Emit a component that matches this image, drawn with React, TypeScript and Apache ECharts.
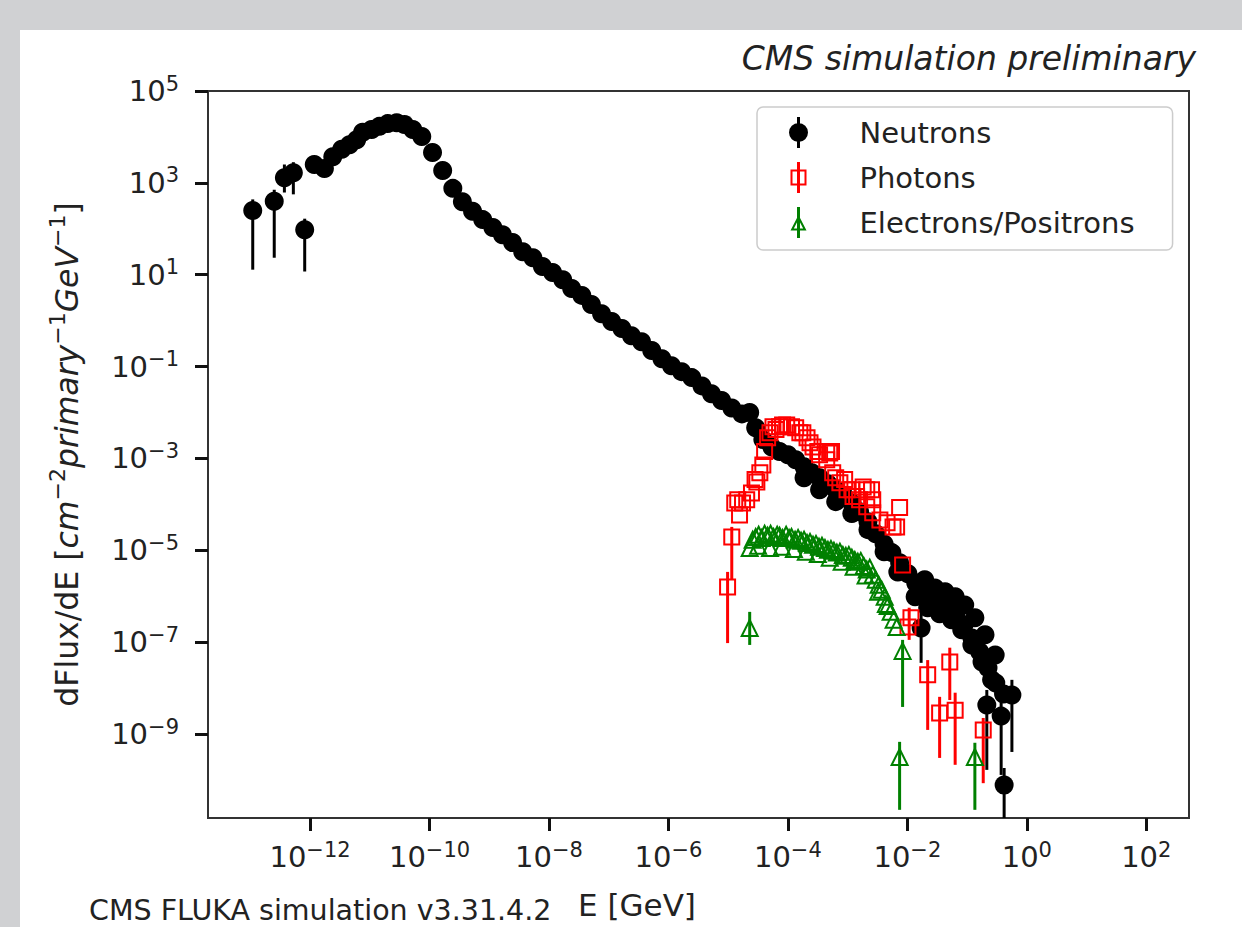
import React, { useEffect, useRef } from "react";
import * as echarts from "echarts";

const FONT = "DejaVu Sans";
const INK = "#222222";

// Decades that carry ticks and labels (log10 values)
const xTickExponents = [-12, -10, -8, -6, -4, -2, 0, 2];
const yTickExponents = [5, 3, 1, -1, -3, -5, -7, -9];
// Axis limits (log10 values)
const xLogRange = [-13.709, 2.715];
const yLogRange = [-10.828, 5];

// Neutrons: log10(E / GeV) and log10(dFlux/dE)
const neutronLogE = [
  -12.96, -12.6, -12.43, -12.28, -12.09, -11.93, -11.76, -11.62, -11.47, -11.34,
  -11.22, -11.12, -10.97, -10.84, -10.7, -10.55, -10.42, -10.28, -10.13, -9.95,
  -9.78, -9.61, -9.45, -9.28, -9.11, -8.94, -8.78, -8.61, -8.44, -8.27,
  -8.11, -7.94, -7.77, -7.62, -7.45, -7.29, -7.12, -6.95, -6.78, -6.62,
  -6.45, -6.28, -6.11, -5.95, -5.78, -5.61, -5.44, -5.28, -5.11, -4.94,
  -4.77, -4.64, -4.54, -4.42, -4.27, -4.14, -4.0, -3.87, -3.73, -3.73,
  -3.6, -3.47, -3.47, -3.33, -3.2, -3.2, -3.06, -2.93, -2.93, -2.8,
  -2.66, -2.66, -2.53, -2.39, -2.39, -2.26, -2.16, -2.13, -1.99, -1.87,
  -1.86, -1.77, -1.72, -1.71, -1.66, -1.59, -1.54, -1.46, -1.46, -1.37,
  -1.32, -1.26, -1.2, -1.19, -1.09, -1.05, -1.04, -0.92, -0.92, -0.87,
  -0.79, -0.75, -0.7, -0.67, -0.65, -0.59, -0.53, -0.52, -0.43, -0.39,
  -0.38, -0.25,
];
const neutronLogFlux = [
  2.4, 2.6, 3.11, 3.22, 1.98, 3.4, 3.31, 3.57, 3.73, 3.83,
  3.94, 4.1, 4.16, 4.23, 4.29, 4.31, 4.27, 4.16, 4.01, 3.66,
  3.27, 2.88, 2.59, 2.38, 2.2, 2.03, 1.87, 1.7, 1.5, 1.37,
  1.18, 1.05, 0.89, 0.7, 0.55, 0.35, 0.15, -0.02, -0.17, -0.33,
  -0.46, -0.65, -0.83, -0.98, -1.11, -1.24, -1.42, -1.59, -1.74, -1.9,
  -2.03, -2.0, -2.33, -2.59, -2.75, -2.85, -2.92, -3.03, -3.18, -3.42,
  -3.31, -3.42, -3.68, -3.55, -3.68, -3.94, -3.81, -3.97, -4.2, -4.16,
  -4.38, -4.55, -4.64, -4.86, -5.03, -5.05, -5.47, -5.27, -5.51, -6.01,
  -5.71, -6.69, -5.86, -5.64, -6.25, -6.01, -5.82, -6.12, -6.38, -5.9,
  -6.23, -6.51, -6.01, -6.41, -6.73, -6.62, -6.19, -6.91, -7.06, -6.47,
  -7.21, -7.43, -6.84, -8.37, -7.56, -7.82, -7.28, -7.89, -8.61, -8.13,
  -10.11, -8.15,
];
// [log10 E, log10 lower, log10 upper]
const neutronErrors = [
  [-12.96, 1.11, 2.64],
  [-12.6, 1.37, 2.85],
  [-12.43, 2.79, 3.4],
  [-12.28, 2.75, 3.45],
  [-12.09, 1.07, 2.22],
  [-1.77, -7.45, -6.34],
  [-0.67, -9.78, -8.04],
  [-0.43, -9.89, -8.3],
  [-0.25, -9.39, -7.82],
  [-0.38, -11.5, -9.74],
];

// Photons
const photonLogE = [
  -5.01, -4.94, -4.89, -4.84, -4.81, -4.76, -4.69, -4.61, -4.55, -4.52,
  -4.47, -4.42, -4.39, -4.34, -4.3, -4.25, -4.2, -4.14, -4.09, -4.02,
  -3.94, -3.87, -3.8, -3.75, -3.68, -3.63, -3.58, -3.5, -3.47, -3.35,
  -3.35, -3.3, -3.27, -3.25, -3.2, -3.13, -3.05, -3.01, -2.93, -2.91,
  -2.85, -2.8, -2.74, -2.68, -2.68, -2.6, -2.58, -2.58, -2.46, -2.34,
  -2.24, -2.18, -2.13, -2.08, -1.99, -1.94, -1.66, -1.46, -1.29, -1.2,
  -0.73,
];
const photonLogFlux = [
  -5.8, -4.71, -3.97, -3.9, -4.23, -3.97, -3.9, -3.75, -3.46, -3.51,
  -3.31, -3.14, -2.85, -2.55, -2.44, -2.31, -2.37, -2.31, -2.27, -2.27,
  -2.31, -2.33, -2.44, -2.44, -2.55, -2.66, -2.75, -2.85, -2.92, -2.85,
  -3.03, -2.88, -2.85, -3.31, -3.42, -3.53, -3.46, -3.68, -3.68, -3.83,
  -3.83, -3.9, -3.62, -3.68, -4.05, -3.68, -3.9, -4.18, -4.34, -4.4,
  -4.49, -4.49, -4.07, -5.32, -6.67, -6.47, -7.71, -8.54, -7.43, -8.48,
  -8.91,
];
const photonErrors = [
  [-5.01, -7.02, -5.47],
  [-4.94, -5.64, -4.49],
  [-1.97, -6.95, -6.25],
  [-1.66, -8.91, -7.39],
  [-1.46, -9.52, -8.19],
  [-1.29, -8.26, -7.12],
  [-1.2, -9.67, -8.1],
  [-0.73, -10.07, -8.65],
];

// Electrons / positrons
const electronLogE = [
  -4.64, -4.64, -4.59, -4.54, -4.5, -4.49, -4.44, -4.39, -4.34, -4.3,
  -4.29, -4.24, -4.18, -4.14, -4.1, -4.09, -4.03, -3.98, -3.94, -3.9,
  -3.88, -3.83, -3.78, -3.73, -3.7, -3.68, -3.63, -3.58, -3.53, -3.5,
  -3.48, -3.43, -3.38, -3.33, -3.3, -3.28, -3.23, -3.18, -3.13, -3.1,
  -3.08, -3.03, -2.98, -2.93, -2.9, -2.88, -2.83, -2.78, -2.73, -2.7,
  -2.68, -2.63, -2.58, -2.53, -2.49, -2.48, -2.43, -2.38, -2.36, -2.33,
  -2.28, -2.23, -2.18, -2.13, -2.08, -0.87,
];
const electronLogFlux = [
  -6.69, -4.95, -4.77, -4.71, -4.9, -4.66, -4.73, -4.64, -4.68, -4.95,
  -4.64, -4.71, -4.66, -4.68, -4.92, -4.73, -4.66, -4.73, -4.71, -4.97,
  -4.77, -4.73, -4.79, -4.77, -5.03, -4.84, -4.82, -4.88, -4.86, -5.08,
  -4.92, -4.9, -4.95, -4.99, -5.16, -4.97, -5.01, -5.05, -5.03, -5.25,
  -5.1, -5.12, -5.1, -5.16, -5.36, -5.21, -5.25, -5.23, -5.34, -5.55,
  -5.42, -5.38, -5.53, -5.64, -5.9, -5.75, -5.86, -6.01, -6.17, -6.21,
  -6.34, -6.51, -6.67, -9.5, -7.19, -9.5,
];
const electronErrors = [
  [-4.64, -7.06, -6.34],
  [-2.13, -10.65, -9.17],
  [-2.08, -8.41, -6.95],
  [-0.87, -10.65, -9.19],
];

// Legend glyphs: marker with its error bar
const NEUTRON_ICON =
  "path://M8.25,0H11.25V31H8.25Z M0.25,15.5A9.5,9.5,0,1,1,19.25,15.5A9.5,9.5,0,1,1,0.25,15.5Z";
const PHOTON_ICON =
  "path://M0,7.5H16V23.5H0Z M2,9.5V21.5H14V9.5Z M6.5,0H9.5V31H6.5Z";
const ELECTRON_ICON =
  "path://M8,8L16,23.5L0,23.5Z M8,12.4L3.3,21.5L12.7,21.5Z M6.5,0H9.5V31H6.5Z";

const pow10 = (v: number) => Math.pow(10, v);
const toPoints = (xs: number[], ys: number[]) => xs.map((e, i) => [pow10(e), pow10(ys[i])]);

const decadeLabel = (v: number) => {
  const p = Math.round(Math.log10(v));
  return `{b|10}{s|${p < 0 ? "\u2212" + -p : p}}`;
};

const tickRich = {
  b: { fontFamily: FONT, fontSize: 29, color: INK, lineHeight: 36 },
  s: { fontFamily: FONT, fontSize: 21, color: INK, lineHeight: 26, verticalAlign: "top" },
};

const errorBarSeries = (name: string, rows: number[][], color: string) => ({
  type: "custom",
  name,
  clip: true,
  silent: true,
  data: rows.map(([e, lo, hi]) => [pow10(e), pow10(lo), pow10(hi)]),
  encode: { x: 0, y: [1, 2] },
  renderItem: (_params: any, api: any) => {
    const top = api.coord([api.value(0), api.value(2)]);
    const bottom = api.coord([api.value(0), api.value(1)]);
    return {
      type: "line",
      shape: { x1: top[0], y1: top[1], x2: bottom[0], y2: bottom[1] },
      style: { stroke: color, lineWidth: 3 },
    };
  },
});

function buildOption() {
  return {
    animation: false,
    backgroundColor: "#d0d1d3",
    graphic: [
      {
        type: "rect",
        z: -10,
        silent: true,
        shape: { x: 20, y: 30, width: 1222, height: 897 },
        style: { fill: "#ffffff" },
      },
      {
        type: "text",
        x: 1196,
        y: 58,
        style: {
          text: "CMS simulation preliminary",
          align: "right",
          verticalAlign: "middle",
          fontFamily: FONT,
          fontStyle: "italic",
          fontSize: 33,
          fill: INK,
        },
      },
      {
        type: "text",
        x: 89,
        y: 910,
        style: {
          text: "CMS FLUKA simulation v3.31.4.2",
          align: "left",
          verticalAlign: "middle",
          fontFamily: FONT,
          fontSize: 28.5,
          fill: INK,
        },
      },
    ],
    grid: {
      left: 208,
      top: 91,
      right: 53,
      bottom: 109,
      show: true,
      borderColor: "#333333",
      borderWidth: 2,
      backgroundColor: "transparent",
    },
    legend: {
      orient: "vertical",
      left: 757,
      top: 107,
      padding: [10, 38, 12, 32],
      itemGap: 14,
      itemWidth: 20,
      itemHeight: 31,
      backgroundColor: "rgba(255,255,255,0.8)",
      borderColor: "#cccccc",
      borderWidth: 1.5,
      borderRadius: 6,
      selectedMode: false,
      textStyle: { fontFamily: FONT, fontSize: 29, color: INK, padding: [0, 0, 0, 46] },
      data: [
        { name: "Neutrons", icon: NEUTRON_ICON, itemStyle: { color: "#000000", borderWidth: 0, opacity: 1 } },
        { name: "Photons", icon: PHOTON_ICON, itemStyle: { color: "#ff0000", borderWidth: 0, opacity: 1 } },
        { name: "Electrons/Positrons", icon: ELECTRON_ICON, itemStyle: { color: "#008000", borderWidth: 0, opacity: 1 } },
      ],
    },
    xAxis: {
      type: "log",
      logBase: 10,
      min: pow10(xLogRange[0]),
      max: pow10(xLogRange[1]),
      name: "E [GeV]",
      nameLocation: "middle",
      nameGap: 71,
      nameTextStyle: { fontFamily: FONT, fontSize: 31, color: INK, padding: [0, 123, 0, 0] },
      axisLine: { show: false },
      splitLine: { show: false },
      minorTick: { show: false },
      axisTick: {
        show: true,
        length: 13,
        lineStyle: { color: "#111111", width: 3 },
        customValues: xTickExponents.map(pow10),
      },
      axisLabel: {
        margin: 21,
        customValues: xTickExponents.map(pow10),
        formatter: decadeLabel,
        rich: tickRich,
      },
    },
    yAxis: {
      type: "log",
      logBase: 10,
      min: pow10(yLogRange[0]),
      max: pow10(yLogRange[1]),
      name: "{r|dFlux/dE [}{i|cm}{s|\u22122}{i|primary}{s|\u22121}{i|GeV}{s|\u22121}{r|]}",
      nameLocation: "middle",
      nameRotate: 90,
      nameGap: 120,
      nameTextStyle: {
        rich: {
          r: { fontFamily: FONT, fontSize: 31.5, color: INK, lineHeight: 42 },
          i: { fontFamily: FONT, fontStyle: "italic", fontSize: 31.5, color: INK, lineHeight: 42 },
          s: { fontFamily: FONT, fontSize: 22, color: INK, lineHeight: 31, verticalAlign: "top" },
        },
      },
      axisLine: { show: false },
      splitLine: { show: false },
      minorTick: { show: false },
      axisTick: {
        show: true,
        length: 13,
        lineStyle: { color: "#111111", width: 3 },
        customValues: yTickExponents.map(pow10),
      },
      axisLabel: {
        margin: 29,
        customValues: yTickExponents.map(pow10),
        formatter: decadeLabel,
        rich: tickRich,
      },
    },
    series: [
      errorBarSeries("Neutron errors", neutronErrors, "#000000"),
      {
        type: "scatter",
        name: "Neutrons",
        symbol: "circle",
        symbolSize: 19,
        itemStyle: { color: "#000000", opacity: 1 },
        data: toPoints(neutronLogE, neutronLogFlux),
      },
      errorBarSeries("Photon errors", photonErrors, "#ff0000"),
      {
        type: "scatter",
        name: "Photons",
        symbol: "rect",
        symbolSize: 15,
        itemStyle: { color: "rgba(0,0,0,0)", borderColor: "#ff0000", borderWidth: 2, opacity: 1 },
        data: toPoints(photonLogE, photonLogFlux),
      },
      errorBarSeries("Electron errors", electronErrors, "#008000"),
      {
        type: "scatter",
        name: "Electrons/Positrons",
        symbol: "triangle",
        symbolSize: 16,
        itemStyle: { color: "rgba(0,0,0,0)", borderColor: "#008000", borderWidth: 2, opacity: 1 },
        data: toPoints(electronLogE, electronLogFlux),
      },
    ],
  };
}

export default function App() {
  const ref = useRef<HTMLDivElement>(null);
  useEffect(() => {
    const chart = echarts.init(ref.current!, null, { renderer: "svg" });
    chart.setOption(buildOption() as any);
    return () => chart.dispose();
  }, []);
  return (
    <div
      ref={ref}
      style={{ position: "fixed", left: 0, top: 0, width: 1242, height: 927 }}
    />
  );
}
